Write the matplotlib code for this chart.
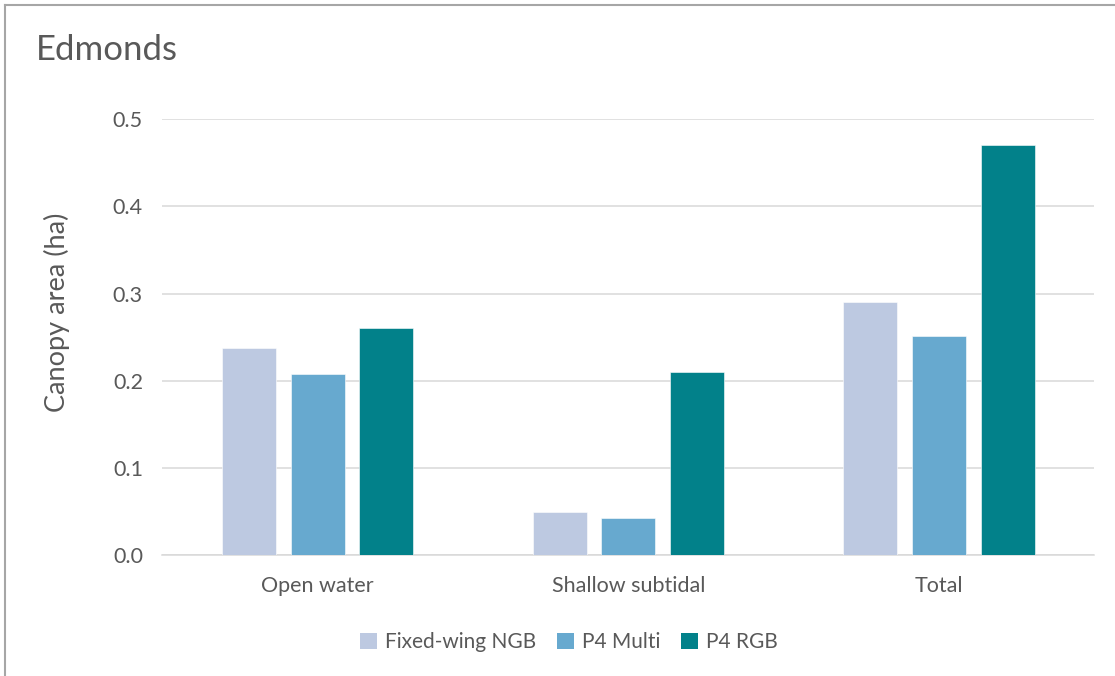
import matplotlib.pyplot as plt
import numpy as np
from matplotlib.lines import Line2D

categories = ["Open water", "Shallow subtidal", "Total"]
series_names = ["Fixed-wing NGB", "P4 Multi", "P4 RGB"]
fixed_wing = [0.238, 0.050, 0.290]
p4_multi = [0.208, 0.043, 0.251]
p4_rgb = [0.260, 0.210, 0.470]
colors = ["#bdc9e1", "#67a9cf", "#02818a"]
text_color = "#595959"

plt.rcParams["font.family"] = ["Lato", "DejaVu Sans"]

fig = plt.figure(figsize=(11.15, 6.76), dpi=100)
ax = fig.add_axes([162.4 / 1115, 1 - 555.3 / 676, (1094.3 - 162.4) / 1115, (555.3 - 119) / 676])

x = np.arange(len(categories))
width = 0.174
step = 0.221
for i, (vals, name) in enumerate(zip([fixed_wing, p4_multi, p4_rgb], series_names)):
    ax.bar(x + (i - 1) * step, vals, width, color=colors[i], label=name,
           edgecolor="white", linewidth=0.4, zorder=3)

ax.set_xlim(-0.5, len(categories) - 0.5)
ax.set_ylim(0, 0.5)
ax.set_yticks(np.arange(0, 0.51, 0.1))
ax.set_yticklabels([f"{v:.1f}" for v in np.arange(0, 0.51, 0.1)])
ax.set_xticks(x)
ax.set_xticklabels(categories)
ax.tick_params(axis="both", length=0, colors=text_color, labelsize=15.5)
ax.tick_params(axis="y", pad=14)
ax.tick_params(axis="x", pad=15)
ax.grid(axis="y", color="#d9d9d9", linewidth=1.1, zorder=0)
for s in ["top", "right", "left"]:
    ax.spines[s].set_visible(False)
ax.spines["bottom"].set_color("#d9d9d9")
ax.spines["bottom"].set_linewidth(1.1)

fig.text(57 / 1115, 1 - 312 / 676, "Canopy area (ha)", color=text_color, fontsize=19.5,
         rotation=90, ha="center", va="center")

fig.text(36 / 1115, 1 - 50 / 676, "Edmonds", fontsize=25, color=text_color, va="center", ha="left")

leg = fig.legend(loc="center", bbox_to_anchor=(569 / 1115, 1 - 642 / 676), ncol=3, frameon=False,
                 fontsize=15, handlelength=0.8, handleheight=0.8, handletextpad=0.4, columnspacing=1.0,
                 labelcolor=text_color)
for h in leg.legend_handles:
    h.set_edgecolor("none")

# chart area frame (only top and left edges visible in the crop)
fig.add_artist(Line2D([5 / 1115, 5 / 1115], [0, 1 - 5 / 676], color="#a6a6a6", linewidth=1.5))
fig.add_artist(Line2D([5 / 1115, 1], [1 - 5 / 676, 1 - 5 / 676], color="#a6a6a6", linewidth=1.5))

fig.savefig("out.png", dpi=100)
